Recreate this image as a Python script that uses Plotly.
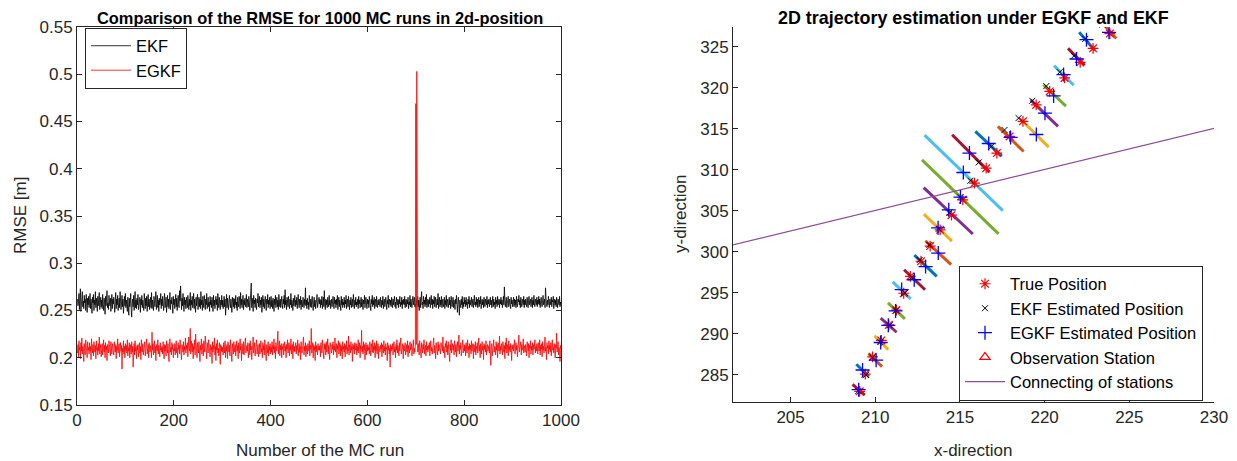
import plotly.graph_objects as go

# ---------------- Left panel data: RMSE per Monte-Carlo run (in mm) ----------------
ekf_rmse_mm = [
    262,255,259,268,251,258,273,249,257,263,270,254,260,252,266,258,262,250,267,259,248,263,256,265,253,
    260,268,252,262,255,247,264,258,267,250,261,256,270,253,263,258,249,265,255,262,269,251,259,264,254,
    261,252,267,256,250,263,259,246,265,255,262,271,253,258,251,266,260,255,263,249,259,267,252,262,257,
    264,254,248,260,269,252,262,256,266,250,259,263,253,270,260,251,258,266,254,262,247,260,265,255,268,
    253,261,256,249,264,257,245,263,254,259,268,251,243,258,262,254,266,250,260,270,253,261,252,263,256,
    267,251,259,255,264,248,262,256,266,253,261,257,250,268,259,252,263,255,265,249,260,267,254,262,251,
    258,264,253,269,252,261,256,250,265,259,254,262,270,251,258,266,253,261,249,263,256,259,268,252,262,
    255,265,257,250,261,268,253,259,264,248,257,266,254,262,252,259,269,251,261,257,264,253,247,265,256,
    262,252,259,267,254,263,250,258,266,256,253,271,260,276,257,251,263,255,268,259,249,264,256,261,252,
    264,257,253,266,259,251,262,255,269,250,261,256,265,253,259,268,252,262,257,248,264,255,261,267,251,
    259,264,254,262,252,270,256,261,250,265,258,253,266,259,251,262,256,268,252,261,264,254,259,249,265,
    256,261,253,264,258,249,266,255,261,252,259,265,256,262,250,268,258,253,264,259,251,261,256,266,254,
    261,252,258,265,254,262,245,259,267,253,263,256,251,261,266,257,253,262,256,248,264,259,254,263,252,
    262,256,266,253,259,250,264,257,254,265,261,252,269,256,262,253,259,266,251,261,256,263,254,259,267,
    253,262,258,254,265,259,250,267,260,279,253,263,256,249,266,257,261,253,263,256,251,262,258,268,254,
    259,265,253,261,256,264,248,258,266,254,262,252,259,265,256,250,262,257,267,253,261,256,264,252,259,
    265,254,261,252,263,257,249,262,256,266,253,259,264,254,261,251,267,257,254,262,253,259,265,256,252,
    262,257,266,253,272,256,261,251,264,259,254,265,257,252,262,256,268,253,261,257,250,263,255,259,266,
    254,261,256,264,252,259,267,257,253,262,256,265,251,261,257,254,264,259,253,262,256,274,255,261,252,
    263,256,259,251,266,257,254,262,253,261,265,256,250,259,264,254,261,252,262,257,267,253,259,256,264,
    257,262,253,261,256,265,252,259,264,254,271,257,251,262,256,261,253,264,257,254,266,256,261,252,259,
    262,254,259,265,256,252,264,257,261,253,262,256,266,251,259,264,254,261,257,250,265,256,262,253,259,
    256,264,253,261,257,266,252,259,262,254,265,257,251,261,256,264,253,259,262,254,267,257,252,261,256,
    264,254,259,256,262,252,265,257,261,253,259,264,254,262,256,251,261,257,266,253,259,264,256,252,262,
    257,261,253,265,256,259,250,262,257,266,254,261,256,264,252,259,262,254,265,257,253,261,256,262,259,
    254,264,257,253,261,256,265,252,259,262,254,257,264,256,251,261,257,266,253,259,262,256,261,254,264,
    257,253,262,256,261,265,254,259,252,264,257,256,262,253,261,257,265,254,259,256,264,252,261,257,262,
    256,265,253,259,262,254,261,257,264,252,259,256,266,254,262,257,253,261,265,256,259,264,254,257,253,
    262,256,259,265,254,261,250,257,264,253,262,270,256,259,252,265,257,261,254,264,256,267,253,259,262,
    254,261,257,264,253,259,266,256,262,252,261,257,265,254,259,264,253,257,262,256,268,252,259,264,254,
    261,256,265,253,259,262,254,257,264,252,261,256,266,254,259,262,253,257,264,256,261,252,265,257,254,
    259,264,253,261,256,251,262,257,266,254,248,259,264,256,245,261,257,253,262,256,265,252,259,254,264,
    257,261,254,264,256,259,252,262,257,265,253,261,256,259,264,254,257,262,253,261,266,256,259,254,264,
    256,262,253,259,264,254,261,257,265,252,259,262,256,261,253,264,257,254,262,259,256,265,253,261,257,
    262,254,259,264,256,261,253,257,265,254,262,256,259,252,264,257,261,254,265,256,259,262,253,261,257,
    264,256,261,253,259,265,256,275,262,254,259,264,253,261,257,265,254,259,262,256,252,264,257,261,254,
    259,264,254,262,256,261,253,265,257,254,262,259,266,256,261,253,264,257,254,262,259,256,265,253,261,
    256,262,259,254,264,257,253,261,265,256,259,262,254,257,264,253,261,256,266,257,254,262,259,256,264,
    254,261,257,265,256,262,253,259,264,257,254,261,266,256,259,262,253,274,264,257,254,261,256,265,259,
    253,262,257,256,264,254,261,259,265,252,257,262,256,261,254,264,259,253,262,257,256,265,254,259,256,
]

egkf_rmse_mm = [
    205,214,201,218,208,211,199,216,207,221,204,212,209,196,215,210,203,219,206,213,200,217,208,211,204,
    216,207,212,198,220,209,205,214,202,217,210,206,213,199,218,208,211,203,215,207,222,204,210,214,201,
    209,215,203,211,219,206,213,200,216,208,212,197,214,210,205,218,207,212,202,217,209,204,215,208,211,
    203,217,210,206,214,199,212,208,220,205,211,215,201,209,216,207,213,188,210,206,218,204,212,200,215,
    208,213,205,219,202,211,207,216,200,214,209,204,217,206,212,190,210,215,203,218,207,211,199,213,208,
    214,201,210,216,205,212,198,219,208,206,215,203,211,209,217,202,213,207,220,204,210,214,200,216,209,
    206,213,209,200,227,208,215,203,211,218,205,212,197,214,210,207,219,204,213,209,201,216,208,211,206,
    212,204,217,209,199,214,207,213,202,218,210,205,215,208,196,212,220,206,211,203,216,209,214,200,210,
    207,215,203,212,218,205,210,200,216,209,213,204,219,207,211,198,214,210,206,217,203,212,208,221,205,
    213,209,216,201,214,222,207,211,231,204,218,210,206,215,199,212,209,219,203,225,208,213,200,216,210,
    205,217,210,196,213,208,220,204,211,215,202,218,209,206,223,207,212,199,216,210,205,219,208,213,201,
    214,208,211,194,217,206,213,209,221,203,212,197,215,208,219,205,210,202,216,211,193,214,207,212,206,
    211,203,216,209,205,218,200,212,207,214,199,217,210,206,213,202,219,208,211,196,215,209,204,217,210,
    206,214,202,211,218,207,213,199,216,209,205,220,208,212,197,215,210,204,217,203,212,208,221,205,211,
    213,207,216,200,210,215,203,218,208,212,198,214,209,222,205,211,216,202,213,207,219,204,210,214,201,
    209,215,204,212,218,206,210,200,216,208,213,203,219,207,211,197,214,209,205,217,202,212,208,215,204,
    211,206,217,203,213,209,220,205,212,199,216,210,207,214,228,204,211,218,202,213,208,215,200,212,209,
    215,203,210,217,207,212,200,214,209,219,205,211,216,202,213,208,220,204,210,214,199,217,207,212,206,
    210,216,204,213,208,219,202,211,215,206,212,198,217,209,205,214,210,222,203,212,207,216,201,213,209,
    204,215,210,207,218,202,213,209,231,205,211,216,200,214,208,212,197,217,206,213,210,203,215,208,212,
    208,213,201,216,210,205,219,207,212,199,215,209,214,203,217,206,211,220,204,213,208,198,216,210,212,
    205,214,209,217,203,212,208,221,206,211,215,200,213,209,218,204,210,216,202,214,207,212,199,217,209,
    212,206,215,201,213,209,218,204,211,207,223,203,214,210,205,217,208,212,196,215,209,213,204,216,208,
    210,215,203,212,207,219,205,211,216,200,213,209,229,206,212,204,217,208,214,198,211,216,203,213,207,
    214,208,211,204,217,209,202,215,210,206,219,205,212,208,216,200,213,207,218,204,211,215,199,212,209,
    206,213,209,216,201,214,210,205,218,207,212,203,215,209,211,197,216,208,213,204,210,190,214,207,212,
    209,215,203,212,217,206,211,200,214,208,219,205,213,210,202,216,207,212,221,204,211,208,215,199,213,
    207,212,216,203,210,214,206,218,201,213,209,205,217,208,211,215,202,212,207,219,204,210,206,212,469,
    214,503,209,206,215,211,203,218,208,212,200,216,210,205,214,209,219,204,211,213,202,217,208,212,206,
    213,209,216,202,212,218,207,211,204,215,209,221,205,213,208,199,216,210,212,203,217,207,214,209,211,
    204,216,210,213,207,222,205,212,209,200,215,211,218,206,213,203,217,209,212,196,214,208,219,205,211,
    215,208,213,203,218,210,206,214,201,212,217,207,211,224,204,213,209,216,202,212,208,219,205,211,214,
    207,213,202,216,210,205,219,208,212,200,215,209,213,204,218,207,211,215,199,214,210,206,217,203,212,
    209,216,205,212,221,207,213,200,215,210,204,217,208,212,198,215,209,213,206,218,203,211,214,207,210,
    213,205,218,209,192,211,215,202,213,208,219,206,212,210,203,217,208,214,200,216,211,207,223,204,212,
    208,215,210,203,217,212,206,213,199,216,209,221,205,211,214,202,218,208,212,206,215,210,197,213,209,
    214,207,212,219,204,211,216,208,213,201,215,210,224,206,212,209,217,203,214,208,211,220,205,213,210,
    206,214,209,202,217,211,207,215,200,213,210,218,204,212,208,216,203,214,209,211,219,205,212,207,215,
    211,204,216,210,207,219,203,213,209,215,201,217,208,212,205,214,222,207,211,198,216,210,213,204,218,
    209,213,206,216,202,212,219,208,211,205,215,209,200,214,210,226,206,212,217,203,211,208,196,213,210,
]

run_ticks = [0, 200, 400, 600, 800, 1000]
rmse_ticks = [0.15, 0.2, 0.25, 0.3, 0.35, 0.4, 0.45, 0.5, 0.55]
rmse_ticktext = ["0.15", "0.2", "0.25", "0.3", "0.35", "0.4", "0.45", "0.5", "0.55"]

# ---------------- Right panel data: 2-D trajectory ----------------
true_x = [209.08, 209.41, 209.84, 210.36, 210.80, 211.25, 211.68, 212.07, 212.70, 213.24, 213.83, 214.50,
          215.17, 215.86, 216.55, 217.18, 217.93, 218.72, 219.50, 220.30, 221.18, 222.10, 222.86, 223.85]
true_y = [283.0, 285.1, 287.2, 289.2, 291.1, 292.9, 294.95, 297.0, 298.85, 300.7, 302.68, 304.47,
          306.34, 308.38, 310.2, 312.04, 314.06, 315.9, 317.9, 319.55, 321.2, 323.1, 324.8, 326.6]
ekf_x = [209.0, 209.45, 209.84, 210.30, 210.85, 211.22, 211.75, 212.15, 212.62, 213.20, 213.75, 214.38,
         215.03, 215.62, 216.11, 216.85, 217.63, 218.46, 219.27, 220.10, 220.89, 221.74, 222.40, 223.42]
ekf_y = [283.05, 285.0, 287.1, 289.0, 291.05, 292.85, 295.0, 296.9, 299.0, 300.85, 302.8, 304.8,
         306.67, 308.66, 310.9, 312.84, 314.85, 316.3, 318.4, 320.2, 321.9, 323.9, 325.95, 327.7]
egkf_x = [209.02, 209.25, 210.05, 210.32, 210.77, 211.20, 211.56, 212.30, 212.97, 213.72, 213.71, 214.34,
          215.03, 215.20, 215.56, 216.70, 217.99, 219.51, 220.02, 220.53, 221.12, 221.88, 222.47, 223.80]
egkf_y = [283.2, 285.6, 286.8, 288.95, 291.05, 292.8, 295.4, 296.6, 298.2, 299.85, 302.93, 305.12,
          306.67, 309.67, 312.04, 313.2, 313.94, 314.3, 316.9, 319.0, 321.6, 323.5, 325.85, 326.75]

# covariance ellipses (centre, half extent along the major axis)
ell_cx = [208.8, 209.02, 209.25, 210.0, 210.36, 210.79, 211.25, 211.56, 212.32, 212.97, 213.72, 213.7, 214.31,
          215.02, 215.22, 215.64, 216.69, 218.0, 219.46, 219.98, 220.59, 221.14, 221.87, 222.5, 223.89, 224.9]
ell_cy = [281.0, 283.2, 285.57, 286.8, 288.93, 291.06, 292.8, 295.3, 296.6, 298.3, 299.9, 302.95, 305.0,
          306.7, 309.63, 311.99, 313.17, 313.76, 314.37, 316.9, 319.06, 321.5, 323.76, 325.65, 326.77, 328.4]
ell_dx = [0.34, 0.36, 0.37, 0.40, 0.41, 0.47, 0.50, 0.53, 0.62, 0.66, 0.76, 0.83, 1.45,
          2.26, 2.31, 1.10, 0.78, 0.76, 0.78, 0.81, 0.67, 0.58, 0.49, 0.46, 0.34, 0.34]
ell_dy = [0.63, 0.65, 0.73, 0.78, 0.84, 0.86, 0.98, 1.04, 1.22, 1.30, 1.45, 1.65, 2.83,
          4.51, 4.60, 2.28, 1.50, 1.53, 1.61, 1.61, 1.30, 1.20, 1.04, 1.10, 0.78, 0.78]

station_x = [190.0, 250.0]
station_y = [295.05, 325.05]

x_ticks = [205, 210, 215, 220, 225, 230]
y_ticks = [285, 290, 295, 300, 305, 310, 315, 320, 325]

# ---------------- styling ----------------
# the page body adds an 8px margin, so the figure is drawn 8px smaller and
# every screen position is shifted by that offset
OFF = 8
W, H = 1237 - OFF, 461 - OFF
FONT = "Liberation Sans, Arial, Helvetica, sans-serif"
AX = "#262626"
MATLAB = ["#0072BD", "#D95319", "#EDB120", "#7E2F8E", "#77AC30", "#4DBEEE", "#A2142F"]


def px(x):
    return (x - OFF) / W


def py(y):
    return 1 - (y - OFF) / H


fig = go.Figure()

runs = list(range(1, len(ekf_rmse_mm) + 1))
fig.add_trace(go.Scatter(x=runs, y=[v / 1000 for v in ekf_rmse_mm], mode="lines", name="EKF",
                         line=dict(color="black", width=0.8), xaxis="x", yaxis="y", legend="legend"))
runs2 = list(range(1, len(egkf_rmse_mm) + 1))
fig.add_trace(go.Scatter(x=runs2, y=[v / 1000 for v in egkf_rmse_mm], mode="lines", name="EGKF",
                         line=dict(color="red", width=0.8), xaxis="x", yaxis="y", legend="legend"))

# ellipses grouped per colour of the cycle
groups = {}
for k in range(len(ell_cx)):
    col = MATLAB[(k + 5) % 7]
    gx, gy = groups.setdefault(col, ([], []))
    gx += [ell_cx[k] - ell_dx[k], ell_cx[k] + ell_dx[k], None]
    gy += [ell_cy[k] + ell_dy[k], ell_cy[k] - ell_dy[k], None]
for col, (gx, gy) in groups.items():
    fig.add_trace(go.Scatter(x=gx, y=gy, mode="lines", line=dict(color=col, width=3),
                             showlegend=False, hoverinfo="skip", xaxis="x2", yaxis="y2"))

fig.add_trace(go.Scatter(x=station_x, y=station_y, mode="lines", name="Connecting of stations",
                         line=dict(color="#8B4C9C", width=1.2), xaxis="x2", yaxis="y2",
                         legend="legend2", legendrank=5))
fig.add_trace(go.Scatter(x=true_x, y=true_y, mode="markers", name="True Position",
                         marker=dict(symbol="asterisk-open", size=9, color="red",
                                     line=dict(color="red", width=1.2)),
                         xaxis="x2", yaxis="y2", legend="legend2", legendrank=1))
fig.add_trace(go.Scatter(x=ekf_x, y=ekf_y, mode="markers", name="EKF Estimated Position",
                         marker=dict(symbol="x-thin-open", size=6, color="black",
                                     line=dict(color="black", width=1)),
                         xaxis="x2", yaxis="y2", legend="legend2", legendrank=2))
fig.add_trace(go.Scatter(x=egkf_x, y=egkf_y, mode="markers", name="EGKF Estimated Position",
                         marker=dict(symbol="cross-thin-open", size=10, color="blue",
                                     line=dict(color="blue", width=1.3)),
                         xaxis="x2", yaxis="y2", legend="legend2", legendrank=3))
fig.add_trace(go.Scatter(x=station_x, y=station_y, mode="markers", name="Observation Station",
                         marker=dict(symbol="triangle-up-open", size=9, color="red",
                                     line=dict(color="red", width=1.2)),
                         xaxis="x2", yaxis="y2", legend="legend2", legendrank=4))

axis_common = dict(showgrid=False, zeroline=False, showline=True, linecolor=AX, linewidth=1,
                   ticks="inside", ticklen=5, tickcolor=AX, tickwidth=1, automargin=False,
                   tickfont=dict(family=FONT, size=17, color=AX))

fig.update_layout(
    width=W, height=H,
    margin=dict(l=0, r=0, t=0, b=0, autoexpand=False),
    paper_bgcolor="white", plot_bgcolor="white",
    font=dict(family=FONT, size=17, color=AX),
    xaxis=dict(domain=[px(77), px(561)], range=[0, 1000], tickvals=run_ticks, mirror="ticks",
               anchor="y", **axis_common),
    yaxis=dict(domain=[py(405), py(27)], range=[0.15, 0.55], tickvals=rmse_ticks,
               ticktext=rmse_ticktext, mirror="ticks", anchor="x", **axis_common),
    xaxis2=dict(domain=[px(733), px(1214)], range=[201.6, 230], tickvals=x_ticks, anchor="y2",
                **axis_common),
    yaxis2=dict(domain=[py(402), py(27)], range=[281.7, 327.4], tickvals=y_ticks, anchor="x2",
                **axis_common),
    legend=dict(x=px(85), y=py(58), xanchor="left", yanchor="middle", bgcolor="white",
                bordercolor=AX, borderwidth=1, font=dict(family=FONT, size=16.5, color="black"),
                itemwidth=40),
    legend2=dict(x=px(1203), y=py(333), xanchor="right", yanchor="middle", bgcolor="white",
                 bordercolor=AX, borderwidth=1, font=dict(family=FONT, size=16.5, color="black"),
                 itemwidth=40),
    showlegend=True,
    annotations=[
        dict(text="<b>Comparison of the RMSE for 1000 MC runs in 2d-position</b>", x=px(319.5), y=py(18),
             xref="paper", yref="paper", showarrow=False, xanchor="center", yanchor="middle",
             font=dict(family=FONT, size=16.4, color="black")),
        dict(text="<b>2D trajectory estimation under EGKF and EKF</b>", x=px(973.5), y=py(18),
             xref="paper", yref="paper", showarrow=False, xanchor="center", yanchor="middle",
             font=dict(family=FONT, size=17.9, color="black")),
        dict(text="RMSE [m]", x=px(20), y=py(216), xref="paper", yref="paper", showarrow=False,
             textangle=-90, xanchor="center", yanchor="middle", font=dict(family=FONT, size=17, color=AX)),
        dict(text="y-direction", x=px(680), y=py(214), xref="paper", yref="paper", showarrow=False,
             textangle=-90, xanchor="center", yanchor="middle", font=dict(family=FONT, size=17, color=AX)),
        dict(text="Number of the MC run", x=px(319.5), y=py(450), xref="paper", yref="paper",
             showarrow=False, xanchor="center", yanchor="middle", font=dict(family=FONT, size=17, color=AX)),
        dict(text="x-direction", x=px(973.5), y=py(450), xref="paper", yref="paper",
             showarrow=False, xanchor="center", yanchor="middle", font=dict(family=FONT, size=17, color=AX)),
    ],
)

fig.write_html("out.html")
